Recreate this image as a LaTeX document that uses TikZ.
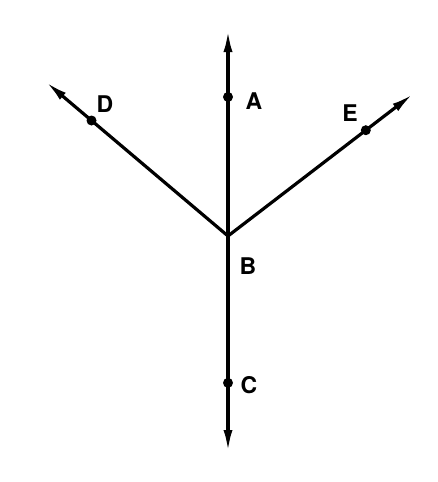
\documentclass[tikz,border=0pt]{standalone}
\usepackage{fontspec}
\setsansfont{TeX Gyre Heros}
\usetikzlibrary{arrows.meta,calc}

\begin{document}
\begin{tikzpicture}[
    x=0.5pt, y=-0.5pt,
    %% one unit = one pixel of the 438x482 frame, y pointing down
    ray/.style={line width=1.6pt, -{Latex[length=11pt,width=4.5pt]}},
    pt/.style={circle, fill=black, inner sep=0pt, minimum size=5pt},
    lbl/.style={font=\sffamily\bfseries\fontsize{11.5}{13}\selectfont},
]
\useasboundingbox (0,0) rectangle (438,482);

%% ── Centre and ray ends ──────────────────────────────────────────────────
\coordinate (b)    at (228,236);
\coordinate (up)   at (228,30);
\coordinate (down) at (228,452);
\coordinate (dtip) at (46,82);
\coordinate (etip) at (413,94);

%% ── Rays ─────────────────────────────────────────────────────────────────
\draw[ray] (b) -- (up);
\draw[ray] (b) -- (down);
\draw[ray] (b) -- (dtip);
\draw[ray] (b) -- (etip);

%% ── Points on the rays ───────────────────────────────────────────────────
\node[pt] (a) at ($(b)!0.675!(up)$)   {};
\node[pt] (c) at ($(b)!0.68!(down)$)  {};
\node[pt] (d) at ($(b)!0.75!(dtip)$)  {};
\node[pt] (e) at ($(b)!0.745!(etip)$) {};

%% ── Labels ───────────────────────────────────────────────────────────────
\node[lbl] (alabel) at (254,101) {A};
\node[lbl] (blabel) at (248,266) {B};
\node[lbl] (clabel) at (249,385) {C};
\node[lbl] (dlabel) at (105,104) {D};
\node[lbl] (elabel) at (350,113) {E};

\end{tikzpicture}
\end{document}
